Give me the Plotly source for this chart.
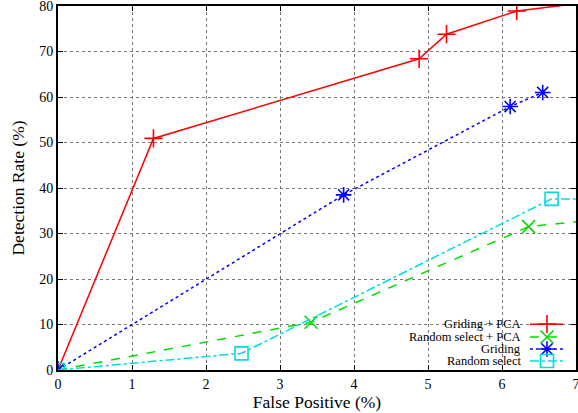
import plotly.graph_objects as go

# ---- data ----
gp_x = [0, 1.29, 4.88, 5.25, 6.2, 7.3]
gp_y = [0, 50.9, 68.4, 73.8, 78.9, 81.1]

rsp_x = [0, 3.42, 6.36, 7.5]
rsp_y = [0, 10.5, 31.5, 33.4]

g_x = [0, 3.86, 6.11, 6.55]
g_y = [0, 38.5, 57.9, 61.0]

rs_x = [0, 2.48, 6.67, 7.5]
rs_y = [0, 3.66, 37.6, 37.6]

names = ["Griding + PCA", "Random select + PCA", "Griding", "Random select"]
colors = ["#ff0000", "#00dd00", "#0000ff", "#00dddd"]
dashes = ["solid", "dash", "dot", "dashdot"]
symbols = ["cross-thin-open", "x-thin-open", "asterisk-open", "square-open"]
msizes = [13, 13, 13, 13]

x_ticks = [0, 1, 2, 3, 4, 5, 6, 7]
y_ticks = [0, 10, 20, 30, 40, 50, 60, 70, 80]

series = [(gp_x, gp_y), (rsp_x, rsp_y), (g_x, g_y), (rs_x, rs_y)]

font_family = "'Liberation Serif'"

fig = go.Figure()
for (xs, ys), n, c, d, s, ms in zip(series, names, colors, dashes, symbols, msizes):
    fig.add_trace(go.Scatter(
        x=xs, y=ys, name=n, mode="lines+markers",
        line=dict(color=c, width=1.5, dash=d),
        marker=dict(symbol=s, size=ms, color=c, line=dict(color=c, width=1.6)),
        showlegend=False,
    ))

# ---- gnuplot-style key (text right-aligned, sample on the right) ----
key_rows = [0.126, 0.0907, 0.0577, 0.0247]
for n, c, d, s, ms, ky in zip(names, colors, dashes, symbols, msizes, key_rows):
    fig.add_trace(go.Scatter(
        x=[0.911, 0.975], y=[ky, ky], xaxis="x2", yaxis="y2", mode="lines",
        line=dict(color=c, width=1.5, dash=d), showlegend=False, hoverinfo="skip",
    ))
    fig.add_trace(go.Scatter(
        x=[0.944], y=[ky], xaxis="x2", yaxis="y2", mode="markers",
        marker=dict(symbol=s, size=ms, color=c, line=dict(color=c, width=1.6)),
        showlegend=False, hoverinfo="skip",
    ))
    fig.add_annotation(
        x=0.896, y=ky, xref="paper", yref="paper", text=n, showarrow=False,
        xanchor="right", yanchor="middle", borderpad=0,
        font=dict(size=12.5, color="black", family=font_family),
    )

# opaque key box (hides grid)
fig.add_shape(type="rect", xref="paper", yref="paper", x0=0.627, x1=0.99, y0=0.003, y1=0.148,
              fillcolor="white", line=dict(width=0), layer="between")

axis_common = dict(
    showline=True, linecolor="black", linewidth=2, mirror="allticks",
    ticks="inside", ticklen=5, tickwidth=1, tickcolor="black",
    showgrid=True, gridcolor="#777777", griddash="dot", gridwidth=1,
    zeroline=False, automargin=False, ticklabeloverflow="allow",
    tickfont=dict(size=14, color="black", family=font_family),
)

fig.update_layout(
    width=578, height=413,
    margin=dict(l=58, r=2, t=6, b=43),
    plot_bgcolor="white", paper_bgcolor="white",
    font=dict(family=font_family, color="black"),
    xaxis=dict(range=[0, 7], tickvals=x_ticks, **axis_common,
               title=dict(text="False Positive (%)", font=dict(size=17.5, family=font_family), standoff=5)),
    yaxis=dict(range=[0, 80], tickvals=y_ticks, **axis_common,
               title=dict(text="Detection Rate (%)", font=dict(size=17.5, family=font_family), standoff=10)),
    xaxis2=dict(overlaying="x", range=[0, 1], visible=False, fixedrange=True),
    yaxis2=dict(overlaying="y", range=[0, 1], visible=False, fixedrange=True),
)

fig.write_html("out.html", config={"displayModeBar": False},
               post_script="document.body.style.margin='0';document.body.style.overflow='hidden';")
